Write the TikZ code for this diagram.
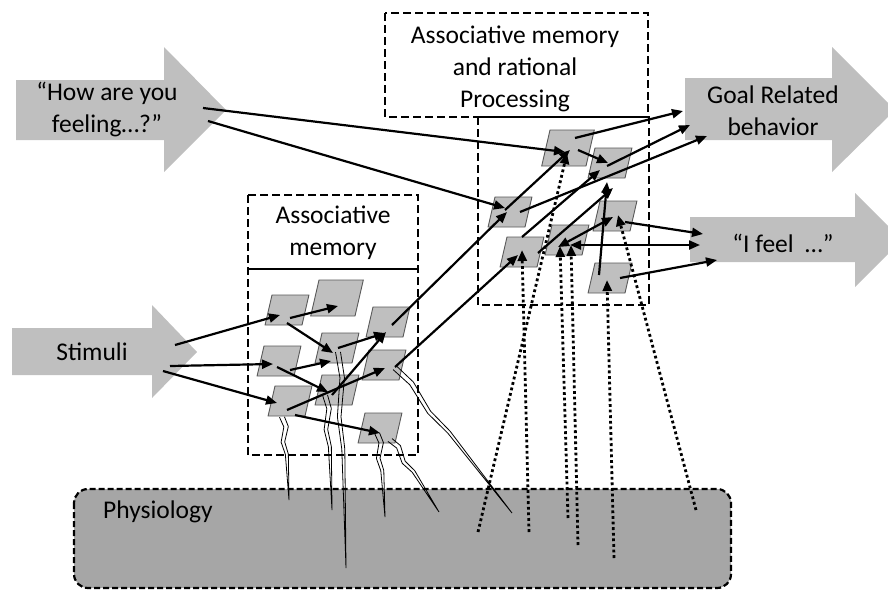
\documentclass[tikz,border=0pt]{standalone}
\usepackage{fontspec}
\setmainfont{Carlito}
\usetikzlibrary{shapes.geometric,arrows.meta,calc}
\definecolor{boxgray}{HTML}{BFBFBF}
\definecolor{physgray}{HTML}{A6A6A6}
\definecolor{edgegray}{HTML}{595959}
\newcommand{\drawspike}[2]{%
  \draw[spike] ($(#1)!2.5pt!90:(#2)$) -- ($(#1)!0.12!(#2)!5.5pt!90:(#2)$) -- ($(#1)!0.3!(#2)!0.6pt!90:(#2)$) -- ($(#1)!0.45!(#2)!3.2pt!90:(#2)$) -- (#2) -- ($(#1)!0.45!(#2)!0.2pt!90:(#2)$) -- ($(#1)!0.3!(#2)!-3pt!90:(#2)$) -- ($(#1)!0.12!(#2)!1pt!90:(#2)$) -- ($(#1)!-2.5pt!90:(#2)$);}
\begin{document}
\begin{tikzpicture}[x=1pt, y=-1pt, >={Triangle[length=11pt,width=9pt]},
  cell/.style={trapezium, trapezium left angle=77, trapezium right angle=103, draw=edgegray, line width=0.9pt, fill=boxgray, inner sep=1pt, minimum width=40pt, minimum height=30pt},
  label/.style={font=\fontsize{25.5}{32}\selectfont, align=center, inner sep=0pt},
  area/.style={line width=2.2pt, dash pattern=on 8pt off 4pt},
  link/.style={line width=2.2pt, ->},
  dotlink/.style={line width=2.8pt, dash pattern=on 2.8pt off 2.8pt, ->},
  spike/.style={line width=0.8pt}]
\clip (0,0) rectangle (888,590);

\fill[boxgray] (16,80) -- (164,80) -- (164,47) -- (226,110) -- (164,172) -- (164,140) -- (16,140) -- cycle;
\fill[boxgray] (12,328) -- (152,328) -- (152,305) -- (197,352) -- (152,398) -- (152,375) -- (12,375) -- cycle;
\fill[boxgray] (685,78) -- (832,78) -- (832,47) -- (895,110) -- (832,172) -- (832,140) -- (685,140) -- cycle;
\fill[boxgray] (690,217) -- (855,217) -- (855,193) -- (902,240) -- (855,287) -- (855,262) -- (690,262) -- cycle;
\node[label] (how) at (107,109) {“How are you\\feeling…?”};
\node[label] (stim) at (92,352) {Stimuli};
\node[label] (goal) at (773,111) {Goal Related\\behavior};
\node[label] (feel) at (783,243) {“I feel\ \ …”};

\draw[area] (385,13) rectangle (648,117);
\draw[area] (478,117) rectangle (649,305);
\draw[area] (248,195) rectangle (418,455);
\draw[line width=2.2pt] (248,269) -- (418,269);
\node[label] (top) at (515,69) {Associative memory\\and rational\\Processing};
\node[label] (assoc) at (333,233) {Associative\\memory};

\draw[line width=2.2pt, dash pattern=on 6pt off 3pt, fill=physgray, rounded corners=14pt] (74,489) rectangle (731,588);
\node[label, anchor=west] (phys) at (103,512) {Physiology};

\node[cell] (m1) at (287,310) {};
\node[cell, minimum height=36pt] (m2) at (337,298) {};
\node[cell] (m3) at (337,348) {};
\node[cell] (m4) at (388,322) {};
\node[cell] (m5) at (279,361) {};
\node[cell] (m6) at (384,365) {};
\node[cell] (m7) at (337,390) {};
\node[cell] (m8) at (290,401) {};
\node[cell] (m9) at (380,428) {};
\node[cell, minimum height=36pt] (r1) at (568,148) {};
\node[cell] (r2) at (610,163) {};
\node[cell] (r3) at (510,212) {};
\node[cell] (r4) at (522,252) {};
\node[cell] (r5) at (567,240) {};
\node[cell] (r6) at (615,216) {};
\node[cell] (r7) at (610,278) {};

\coordinate (s1) at ($(m8)+(-8,16)$);
\coordinate (s2) at ($(m7)+(-12,5)$);
\coordinate (s3) at ($(m3)+(1,4)$);
\coordinate (s4) at ($(m9)+(-3,5)$);
\coordinate (s5) at ($(m9)+(10,12)$);
\coordinate (s6) at ($(m6)+(11,3)$);
\coordinate (t1) at (289,500);
\coordinate (t2) at (332,510);
\coordinate (t3) at (346,568);
\coordinate (t4) at (385,517);
\coordinate (t5) at (439,512);
\coordinate (t6) at (512,513);
\drawspike{s1}{t1}
\drawspike{s2}{t2}
\drawspike{s3}{t3}
\drawspike{s4}{t4}
\drawspike{s5}{t5}
\drawspike{s6}{t6}

\coordinate (d1) at (478,532);
\coordinate (d2) at (529,532);
\coordinate (d3) at (568,518);
\coordinate (d4) at (578,545);
\coordinate (d5) at (614,558);
\coordinate (d6) at (696,510);
\draw[dotlink] (d1) -- ($(r1)+(-1,5)$);
\draw[dotlink] (d2) -- ($(r4)+(0,-2)$);
\draw[dotlink] (d3) -- ($(r5)+(-7,6)$);
\draw[dotlink] (d4) -- ($(r5)+(4,5)$);
\draw[dotlink] (d5) -- ($(r7)+(-3,2)$);
\draw[dotlink] (d6) -- ($(r6)+(3,-1)$);

\draw[link] ($(stim)+(83,-7)$) -- ($(m1)+(-7,5)$);
\draw[link] ($(stim)+(78,14)$) -- ($(m5)+(-6,3)$);
\draw[link] ($(stim)+(71,19)$) -- ($(m8)+(-13,2)$);
\draw[link] ($(m1)+(3,8)$) -- ($(m2)+(1,8)$);
\draw[link] ($(m1)+(0,13)$) -- ($(m3)+(-4,5)$);
\draw[link] ($(m5)+(11,9)$) -- ($(m3)+(-6,13)$);
\draw[link] ($(m5)+(-2,6)$) -- ($(m7)+(-9,2)$);
\draw[link] ($(m3)+(1,0)$) -- ($(m4)+(-3,11)$);
\draw[link] ($(m7)+(-5,5)$) -- ($(m4)+(-2,10)$);
\draw[link] ($(m8)+(-3,9)$) -- ($(m6)+(1,3)$);
\draw[link] ($(m8)+(5,14)$) -- ($(m9)+(0,5)$);
\draw[link] ($(m4)+(4,3)$) -- ($(r3)+(-3,0)$);
\draw[link] ($(m6)+(11,2)$) -- ($(r4)+(-4,3)$);

\draw[link] ($(how)+(96,-1)$) -- ($(r1)+(-3,4)$);
\draw[link] ($(how)+(101,12)$) -- ($(r3)+(-5,-4)$);
\draw[link] ($(r3)+(-5,-2)$) -- ($(r1)+(2,2)$);
\draw[link] ($(r1)+(10,2)$) -- ($(r2)+(-2,0)$);
\draw[link] ($(r4)+(0,-15)$) -- ($(r2)+(-10,7)$);
\draw[link] ($(r4)+(16,1)$) -- ($(r2)+(3,25)$);
\draw[link] ($(r7)+(-11,-3)$) -- ($(r2)+(-3,19)$);
\draw[link, <->] ($(r5)+(-9,7)$) -- ($(r6)+(-2,1)$);
\draw[link, <->] ($(r5)+(3,5)$) -- ($(feel)+(-83,2)$);
\draw[link] ($(r1)+(7,-10)$) -- ($(goal)+(-90,0)$);
\draw[link] ($(r2)+(-3,3)$) -- ($(goal)+(-83,14)$);
\draw[link] ($(r3)+(10,0)$) -- ($(goal)+(-66,25)$);
\draw[link] ($(r6)+(10,6)$) -- ($(feel)+(-80,-9)$);
\draw[link] ($(r7)+(10,0)$) -- ($(feel)+(-66,17)$);
\end{tikzpicture}
\end{document}
